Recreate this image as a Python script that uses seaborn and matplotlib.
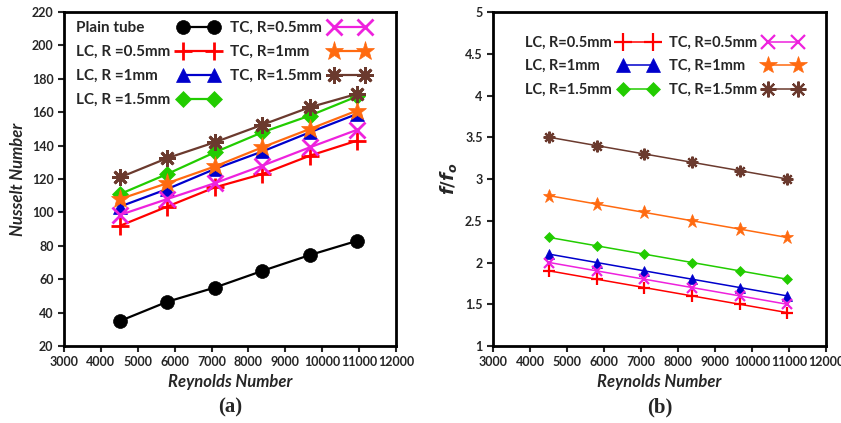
import numpy as np
import pandas as pd
import matplotlib.pyplot as plt
import seaborn as sns

sns.set_style("ticks")
plt.rcParams['font.family'] = ['Lato', 'DejaVu Sans']
plt.rcParams['font.weight'] = 'bold'

reynolds = [4520, 5800, 7090, 8380, 9670, 10950]

# Nusselt number, panel (a)
nu_plain = [35, 46.5, 55, 65, 74.5, 83]
nu_lc05 = [92, 103.5, 115, 123, 134, 143]
nu_lc10 = [103.5, 114, 126, 136.5, 148, 159]
nu_lc15 = [111, 123, 136, 148, 158, 169.5]
nu_tc05 = [98.5, 108, 117.5, 128, 139, 149.5]
nu_tc10 = [108, 117.5, 127.5, 139, 150, 161]
nu_tc15 = [121, 132.5, 142, 152.5, 163, 171]

# friction factor ratio, panel (b)
f_lc05 = [1.9, 1.8, 1.7, 1.6, 1.5, 1.4]
f_lc10 = [2.1, 2.0, 1.9, 1.8, 1.7, 1.6]
f_lc15 = [2.3, 2.2, 2.1, 2.0, 1.9, 1.8]
f_tc05 = [2.0, 1.9, 1.8, 1.7, 1.6, 1.5]
f_tc10 = [2.8, 2.7, 2.6, 2.5, 2.4, 2.3]
f_tc15 = [3.5, 3.4, 3.3, 3.2, 3.1, 3.0]

# colour, marker, marker size (panel a)
styles = {
    'plain': ('#000000', 'o', 10),
    'lc05': ('#FF0000', '+', 13),
    'lc10': ('#0000CC', '^', 10),
    'lc15': ('#22CC00', 'D', 8),
    'tc05': ('#EE22DD', 'x', 11),
    'tc10': ('#FF6A10', '*', 14),
    'tc15': ('#6B3A2E', (8, 2, 0), 12),
}
THIN = ('+', 'x', (8, 2, 0))

fig = plt.figure(figsize=(8.41, 4.23), dpi=100)
ax1 = fig.add_axes([64 / 841, 1 - 346 / 423, 332 / 841, 334 / 423])
ax2 = fig.add_axes([493 / 841, 1 - 346 / 423, 333 / 841, 334 / 423])

left_series = [
    ('plain', 'Plain tube', nu_plain),
    ('lc05', 'LC, R =0.5mm', nu_lc05),
    ('lc10', 'LC, R =1mm', nu_lc10),
    ('lc15', 'LC, R =1.5mm', nu_lc15),
    ('tc05', 'TC, R=0.5mm', nu_tc05),
    ('tc10', 'TC, R=1mm', nu_tc10),
    ('tc15', 'TC, R=1.5mm', nu_tc15),
]
right_series = [
    ('lc05', 'LC, R=0.5mm', f_lc05),
    ('lc10', 'LC, R=1mm', f_lc10),
    ('lc15', 'LC, R=1.5mm', f_lc15),
    ('tc05', 'TC, R=0.5mm', f_tc05),
    ('tc10', 'TC, R=1mm', f_tc10),
    ('tc15', 'TC, R=1.5mm', f_tc15),
]

for key, label, vals in left_series:
    color, marker, ms = styles[key]
    sns.lineplot(x=reynolds, y=vals, ax=ax1, color=color, marker=marker,
                 markersize=ms, markeredgewidth=2 if marker in THIN else 0.5,
                 markeredgecolor=color, linewidth=1.6, label=label)

for key, label, vals in right_series:
    color, marker, ms = styles[key]
    sns.lineplot(x=reynolds, y=vals, ax=ax2, color=color, marker=marker,
                 markersize=ms * 0.7, markeredgewidth=1.6 if marker in THIN else 0.5,
                 markeredgecolor=color, linewidth=1.1, label=label)

ax1.set_ylim(20, 220)
ax1.set_yticks(np.arange(20, 221, 20))
ax1.set_ylabel('Nusselt Number', fontsize=12, fontweight='bold', style='italic')
ax2.set_ylim(1, 5)
ax2.set_yticks(np.arange(1, 5.01, 0.5))
ax2.set_yticklabels(['1', '1.5', '2', '2.5', '3', '3.5', '4', '4.5', '5'])
ax2.set_ylabel('$f/f_o$', fontsize=13)


def left_align(leg):
    # text first, marker after: pad each row so the text starts flush left
    fig.canvas.draw()
    r = fig.canvas.get_renderer()
    for col in leg._legend_handle_box.get_children():
        rows = col.get_children()
        widths = [row.get_children()[0].get_bbox(r).width for row in rows]
        wmax = max(widths)
        for row, w in zip(rows, widths):
            row.sep = row.sep + (wmax - w) * 72 / fig.dpi


legends = []
for ax, tag, fs in [(ax1, '(a)', 11), (ax2, '(b)', 10.5)]:
    ax.set_xlim(3000, 12000)
    ax.set_xticks(np.arange(3000, 12001, 1000))
    ax.set_xlabel('Reynolds Number', fontsize=12, fontweight='bold', style='italic')
    ax.tick_params(labelsize=9, width=1.5, length=4)
    for s in ax.spines.values():
        s.set_linewidth(2)
        s.set_color('black')
    ax.text(0.5, -0.185, tag, transform=ax.transAxes, ha='center', va='center',
            fontsize=15, fontweight='bold', family='Liberation Serif')
    leg = ax.legend(ncol=2, frameon=False, markerfirst=False, numpoints=2,
                    loc='upper left', fontsize=fs, handlelength=2.6,
                    columnspacing=0.8, labelspacing=0.65, handletextpad=0.5,
                    borderaxespad=0.2, markerscale=1.0 if ax is ax1 else 1.35)
    legends.append(leg)

legends[0].set_bbox_to_anchor((0.01, 1.0), transform=ax1.transAxes)
legends[1].set_bbox_to_anchor((0.07, 0.955), transform=ax2.transAxes)
for leg in legends:
    left_align(leg)

fig.savefig('out.png', dpi=100)
